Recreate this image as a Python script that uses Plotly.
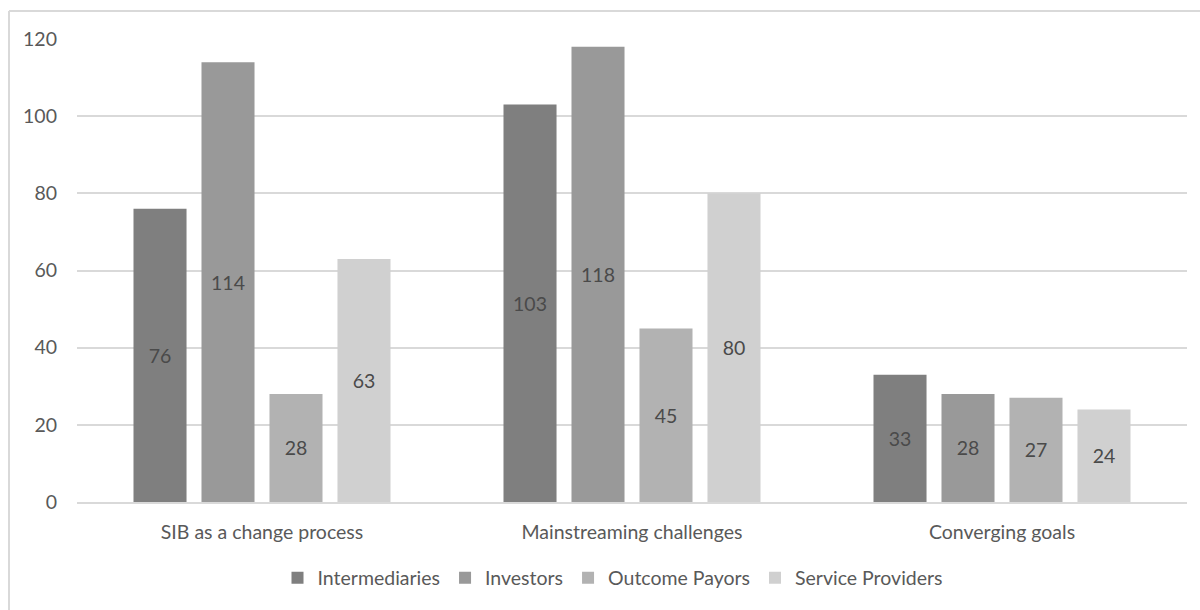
import plotly.graph_objects as go

# Grouped column chart: mentions per theme by stakeholder group
categories = ["SIB as a change process", "Mainstreaming challenges", "Converging goals"]
series_names = ["Intermediaries", "Investors", "Outcome Payors", "Service Providers"]
intermediaries = [76, 103, 33]
investors = [114, 118, 28]
outcome_payors = [28, 45, 27]
service_providers = [63, 80, 24]
y_ticks = [0, 20, 40, 60, 80, 100, 120]

series_values = [intermediaries, investors, outcome_payors, service_providers]
colors = ["#7f7f7f", "#999999", "#b2b2b2", "#d0d0d0"]

FONT = "Lato, sans-serif"
FS = 19.5
TEXT = "#595959"

fig = go.Figure()
for name, vals, col in zip(series_names, series_values, colors):
    fig.add_trace(go.Bar(
        name=name,
        x=categories,
        y=vals,
        marker=dict(color=col, line=dict(width=0)),
        text=[str(v) for v in vals],
        textposition="inside",
        insidetextanchor="middle",
        textangle=0,
        textfont=dict(family=FONT, size=FS, color="#4a4a4a"),
        cliponaxis=False,
    ))

W, H = 1200, 610
L, R, T, B = 77, 13, 39, 108
pw, ph = W - L - R, H - T - B

def px_x(x):
    return (x - L) / pw

def px_y(y):
    return (H - B - y) / ph

fig.update_layout(
    width=W, height=H,
    margin=dict(l=L, r=R, t=T, b=B, pad=0, autoexpand=False),
    paper_bgcolor="white",
    plot_bgcolor="white",
    barmode="group",
    bargap=0.265,
    bargroupgap=0.22,
    font=dict(family=FONT, size=FS, color=TEXT),
    uniformtext=dict(minsize=FS, mode="show"),
    showlegend=True,
    legend=dict(
        orientation="h",
        x=px_x(613), xanchor="center",
        y=px_y(578), yanchor="middle",
        font=dict(family=FONT, size=FS, color=TEXT),
        itemwidth=30,
        tracegroupgap=0,
        bgcolor="rgba(0,0,0,0)",
    ),
    xaxis=dict(
        showgrid=False,
        showline=True, linecolor="#d9d9d9", linewidth=2,
        ticks="", ticklabelstandoff=12,
        tickfont=dict(family=FONT, size=FS, color=TEXT),
        automargin=False,
        fixedrange=True,
    ),
    yaxis=dict(
        range=[0, 120],
        tickvals=y_ticks,
        showgrid=True, gridcolor="#d9d9d9", gridwidth=2,
        zeroline=False,
        showline=False,
        ticks="", ticklabelstandoff=19,
        tickfont=dict(family=FONT, size=FS, color=TEXT),
        automargin=False,
        fixedrange=True,
    ),
    shapes=[
        # chart frame (top and left edges)
        dict(type="line", xref="paper", yref="paper",
             x0=px_x(9), x1=px_x(1200), y0=px_y(11), y1=px_y(11),
             line=dict(color="#d9d9d9", width=2)),
        dict(type="line", xref="paper", yref="paper",
             x0=px_x(9), x1=px_x(9), y0=px_y(11), y1=px_y(610),
             line=dict(color="#d9d9d9", width=2)),
    ],
)

fig.write_html("out.html")
